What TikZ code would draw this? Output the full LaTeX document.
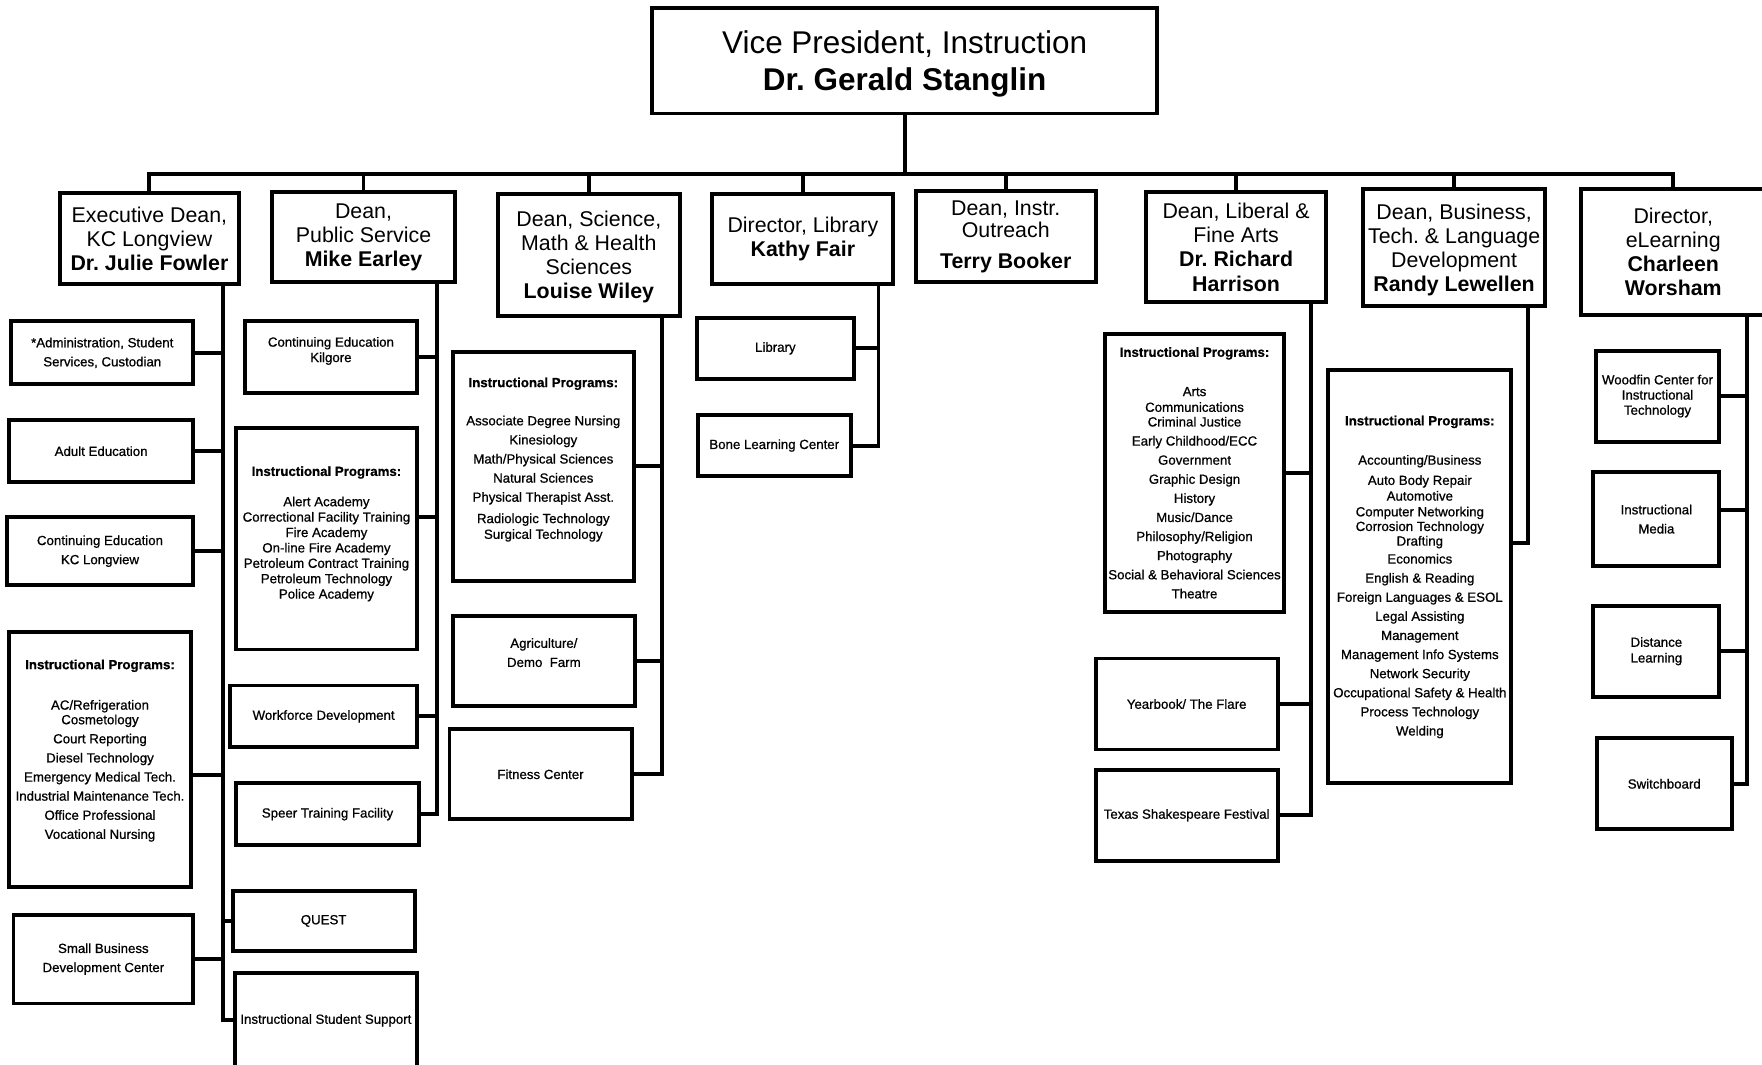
\documentclass[tikz,border=0pt]{standalone}
\usepackage{fontspec}
\setmainfont{Liberation Sans}
\newfontfamily\scanfont[RawFeature={embolden=0.8}]{Liberation Sans}
\usetikzlibrary{calc}
\frenchspacing

\begin{document}
\begin{tikzpicture}[x=1pt,y=-1pt,
    unit/.style={draw,line width=3.5pt,inner sep=0pt,align=center},
    dim/.style 2 args={minimum width=#1pt,minimum height=#2pt},
    head/.style={unit,font=\fontsize{19}{21.5}\selectfont},
    sub/.style={unit,font=\scanfont\fontsize{11.8}{#1}\selectfont},
    sub/.default=17,
    txt/.style={inner sep=0pt,align=center,font=\scanfont\fontsize{11.8}{#1}\selectfont},
    txt/.default=17,
    wire/.style={line width=3.5pt}]
    \useasboundingbox (0,0) rectangle (1568,947);

    \node[unit,dim={450}{94},font=\fontsize{28}{33}\selectfont] (vp) at (805,54)
      {\rule{0pt}{25.5pt}Vice President, Instruction\\\textbf{Dr. Gerald Stanglin}};
    \coordinate (bus) at (805,155);

    \node[head,dim={160}{81}] (exec) at (133,212.5) {Executive Dean,\\KC Longview\\\textbf{Dr. Julie Fowler}};
    \node[head,dim={163}{80}] (pub) at (323.5,211) {Dean,\\Public Service\\\textbf{Mike Earley}};
    \node[head,dim={162}{108}] (sci) at (524,227) {\rule{0pt}{17pt}Dean, Science,\\Math \& Health\\Sciences\\\textbf{Louise Wiley}};
    \node[head,dim={161}{80}] (lib) at (714.5,213) {Director, Library\\\textbf{Kathy Fair}};
    \node[head,dim={160}{81}] (outr) at (895,210.5) {Dean, Instr.\\[-1.5pt]Outreach\\[5.5pt]\textbf{Terry Booker}};
    \node[head,dim={160}{98}] (lart) at (1100,220) {Dean, Liberal \&\\Fine Arts\\\textbf{Dr. Richard}\\\textbf{Harrison}};
    \node[head,dim={162}{104}] (busn) at (1294,220) {\rule{0pt}{19pt}Dean, Business,\\Tech. \& Language\\Development\\\textbf{Randy Lewellen}};
    \node[head,dim={164}{112}] (elrn) at (1489,224) {Director,\\eLearning\\\textbf{Charleen}\\\textbf{Worsham}};

    \draw[wire] (vp.south) -- (bus);
    \draw[wire] (exec.north) |- (bus) -| (elrn.north);
    \foreach \d in {pub,sci,lib,outr,lart,busn}
      \draw[wire] (\d.north) -- (\d.north |- bus);

    % KC Longview
    \node[sub,dim={162}{56}] (adm) at (91,314) {*Administration, Student\\Services, Custodian};
    \node[sub,dim={164}{55}] (adult) at (90,401.5) {Adult Education};
    \node[sub,dim={166}{61}] (cekc) at (89,490.5) {Continuing Education\\KC Longview};
    \node[unit,dim={162}{227}] (eip) at (89,675.5) {};
    \node[txt,anchor=north] (eipt) at ($(eip.north)+(0,26.5)$)
      {\textbf{Instructional Programs:}\\[19pt]AC/Refrigeration\\[-4pt]Cosmetology\\Court Reporting\\Diesel Technology\\Emergency Medical Tech.\\Industrial Maintenance Tech.\\Office Professional\\Vocational Nursing};
    \node[sub,dim={160}{79}] (sbdc) at (92,853.5) {Small Business\\Development Center};
    \node[sub,dim={162}{53}] (quest) at (288,819.5) {QUEST};
    \node[sub,dim={162}{84}] (iss) at (290,908) {Instructional Student Support};
    \coordinate (t1) at ([xshift=-16pt]exec.south east);
    \foreach \c in {adm,adult,cekc,sbdc}
      \draw[wire] (t1) |- (\c.east);
    \draw[wire] (t1) |- ([yshift=-14.5pt]eip.east);
    \draw[wire] (t1) |- (quest.west);
    \draw[wire] (t1) |- (iss.west);

    % Public Service
    \node[unit,dim={153}{64}] (kil) at (294.5,318) {};
    \node[txt=13.7,anchor=north] (kilt) at ($(kil.north)+(0,15.5)$) {Continuing Education\\Kilgore};
    \node[unit,dim={161}{197}] (pip) at (290.5,479.5) {};
    \node[txt=13.7,anchor=north] (pipt) at ($(pip.north)+(0,35.5)$)
      {\textbf{Instructional Programs:}\\[13.3pt]Alert Academy\\Correctional Facility Training\\Fire Academy\\On-line Fire Academy\\Petroleum Contract Training\\Petroleum Technology\\Police Academy};
    \node[sub,dim={166}{55}] (wfd) at (288,637.5) {Workforce Development};
    \node[sub,dim={163}{55}] (speer) at (291.5,724.5) {Speer Training Facility};
    \coordinate (t2) at ([xshift=-18pt]pub.south east);
    \foreach \c in {kil,wfd,speer}
      \draw[wire] (t2) |- (\c.east);
    \draw[wire] (t2) |- ([yshift=19.5pt]pip.east);

    % Science, Math & Health
    \node[unit,dim={161}{204}] (sip) at (483.5,415) {};
    \node[txt,anchor=north] (sipt) at ($(sip.north)+(0,24.5)$)
      {\textbf{Instructional Programs:}\\[17pt]Associate Degree Nursing\\Kinesiology\\Math/Physical Sciences\\Natural Sciences\\Physical Therapist Asst.\\[2pt]Radiologic Technology\\[-3pt]Surgical Technology};
    \node[unit,dim={162}{80}] (agri) at (484,588) {};
    \node[txt,anchor=north] (agrit) at ($(agri.north)+(0,21.5)$) {Agriculture/\\Demo\ \ Farm};
    \node[sub,dim={162}{80}] (fit) at (481,689) {Fitness Center};
    \coordinate (t3) at ([xshift=-18pt]sci.south east);
    \foreach \c in {sip,agri,fit}
      \draw[wire] (t3) |- (\c.east);

    % Library
    \node[sub,dim={140}{54}] (libr) at (690,310) {Library};
    \node[sub,dim={136}{55}] (bone) at (689,396.5) {Bone Learning Center};
    \coordinate (t4) at ([xshift=-15pt]lib.south east);
    \foreach \c in {libr,bone}
      \draw[wire] (t4) |- (\c.east);

    % Liberal & Fine Arts
    \node[unit,dim={160}{248}] (lip) at (1063,421) {};
    \node[txt,anchor=north] (lipt) at ($(lip.north)+(0,13.5)$)
      {\textbf{Instructional Programs:}\\[18pt]Arts\\[-3pt]Communications\\[-4pt]Criminal Justice\\Early Childhood/ECC\\Government\\Graphic Design\\History\\Music/Dance\\Philosophy/Religion\\Photography\\Social \& Behavioral Sciences\\Theatre};
    \node[sub,dim={162}{81}] (year) at (1056,626.5) {Yearbook/ The Flare};
    \node[sub,dim={162}{81}] (tsf) at (1056,725.5) {Texas Shakespeare Festival};
    \coordinate (t5) at ([xshift=-15pt]lart.south east);
    \foreach \c in {lip,year,tsf}
      \draw[wire] (t5) |- (\c.east);

    % Business, Tech. & Language
    \node[unit,dim={163}{368}] (bip) at (1263.5,513) {};
    \node[txt,anchor=north] (bipt) at ($(bip.north)+(0,42.5)$)
      {\textbf{Instructional Programs:}\\[18pt]Accounting/Business\\[1pt]Auto Body Repair\\[-3pt]Automotive\\[-3pt]Computer Networking\\[-4pt]Corrosion Technology\\[-4pt]Drafting\\[-1pt]Economics\\English \& Reading\\Foreign Languages \& ESOL\\Legal Assisting\\Management\\Management Info Systems\\Network Security\\Occupational Safety \& Health\\Process Technology\\Welding};
    \coordinate (t6) at ([xshift=-17pt]busn.south east);
    \draw[wire] (t6) |- ([yshift=30pt]bip.east);

    % eLearning
    \node[sub=13.5,dim={110}{81}] (wood) at (1475,352.5) {Woodfin Center for\\Instructional\\Technology};
    \node[sub,dim={112}{84}] (med) at (1474,462) {Instructional\\Media};
    \node[sub=14,dim={112}{81}] (dist) at (1474,579.5) {Distance\\Learning};
    \node[sub,dim={120}{81}] (swb) at (1481,697.5) {Switchboard};
    \coordinate (t7) at ([xshift=-18pt]elrn.south east);
    \foreach \c in {wood,dist,swb}
      \draw[wire] (t7) |- (\c.east);
    \draw[wire] (t7) |- ([yshift=8pt]med.east);
\end{tikzpicture}
\end{document}
